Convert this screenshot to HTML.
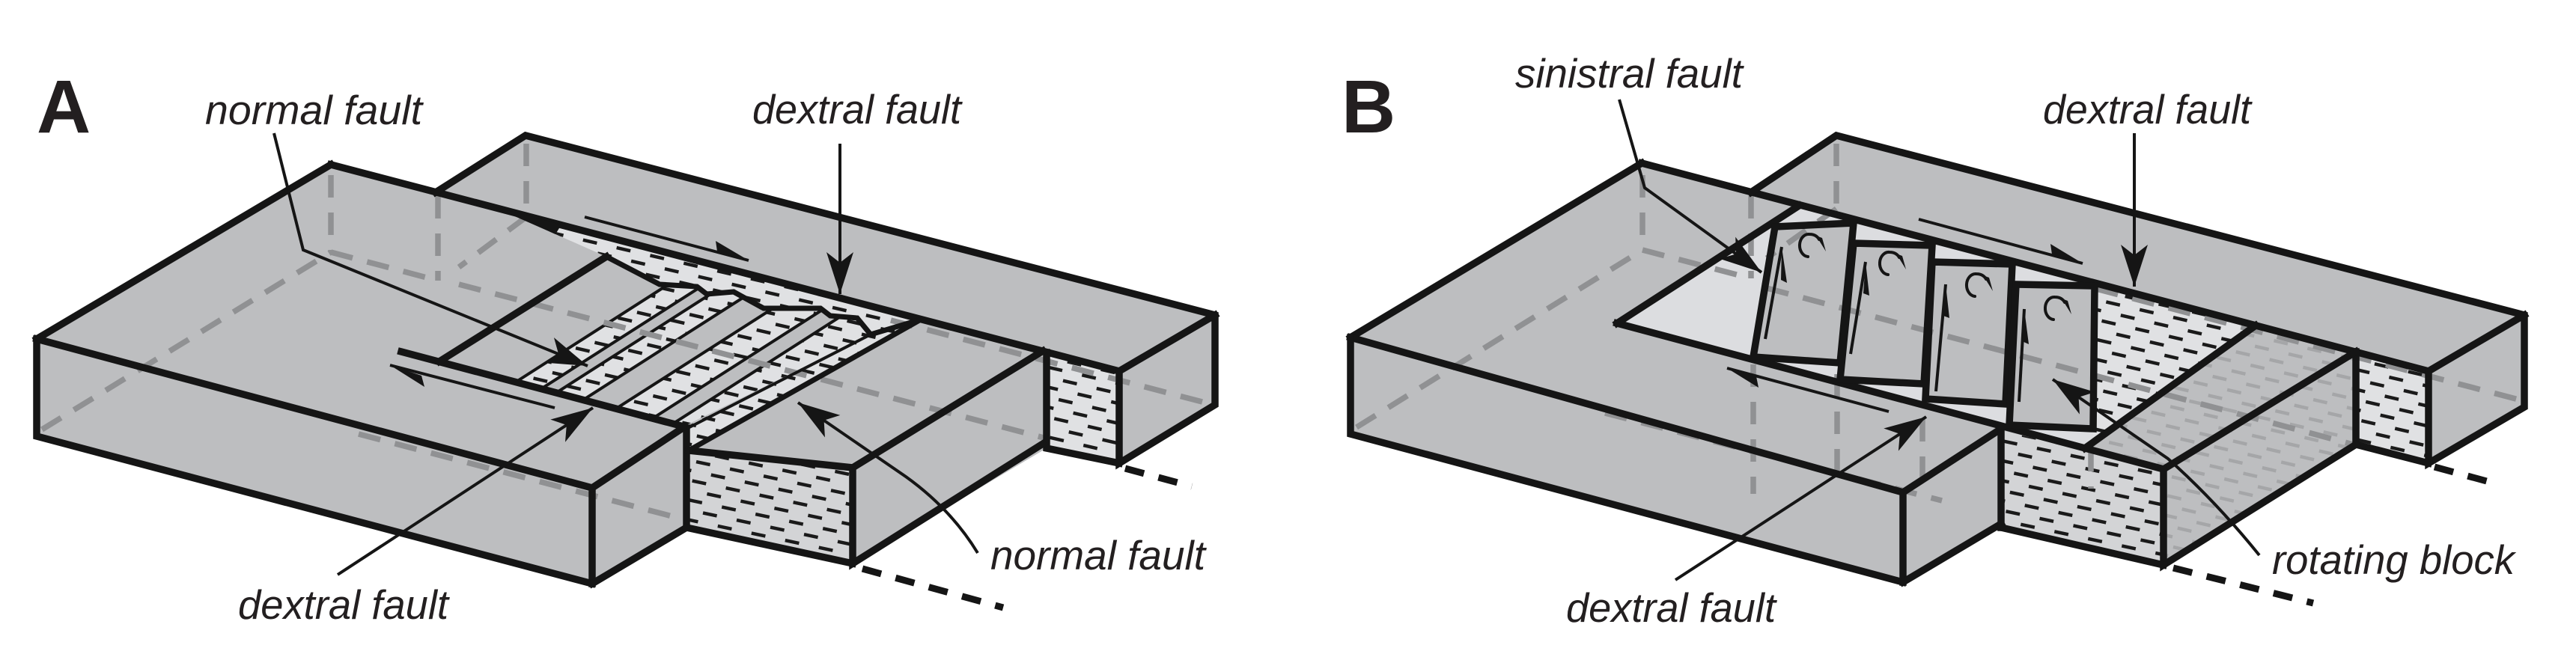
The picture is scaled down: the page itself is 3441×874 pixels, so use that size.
<!DOCTYPE html>
<html><head><meta charset="utf-8"><style>
html,body{margin:0;padding:0;background:#fff;}
svg{display:block;}
text{font-family:"Liberation Sans",Arial,sans-serif;fill:#231f20;}
</style></head><body>
<svg xmlns="http://www.w3.org/2000/svg" width="3441" height="874" viewBox="0 0 3441 874">
<defs>
<pattern id="sed" patternUnits="userSpaceOnUse" width="46" height="26" patternTransform="rotate(13)">
<rect width="46" height="26" fill="#e0e1e3"/>
<rect x="3" y="5" width="19" height="4.5" fill="#1a1a1a"/>
<rect x="26" y="18" width="19" height="4.5" fill="#1a1a1a"/>
</pattern>
<pattern id="sed2" patternUnits="userSpaceOnUse" width="46" height="26" patternTransform="rotate(12)">
<rect width="46" height="26" fill="#d3d4d6"/>
<rect x="3" y="5" width="19" height="4.5" fill="#1a1a1a"/>
<rect x="26" y="18" width="19" height="4.5" fill="#1a1a1a"/>
</pattern>
<pattern id="fsed" patternUnits="userSpaceOnUse" width="46" height="26" patternTransform="rotate(13)">
<rect width="46" height="26" fill="#bdbec0"/>
<rect x="3" y="5" width="19" height="4.5" fill="#a5a6a8"/>
<rect x="26" y="18" width="19" height="4.5" fill="#a5a6a8"/>
</pattern>
<marker id="ah" markerUnits="userSpaceOnUse" markerWidth="70" markerHeight="50" viewBox="-62 -25 70 50" refX="0" refY="0" orient="auto">
<path d="M0,0 L-56,-18 L-42,0 L-56,18 Z" fill="#151515"/>
</marker>
<clipPath id="basinA">
<polygon points="587,483 810,343 881,380 931,383 944,393 980,390 1020,412 1096,412 1109,422 1145,425 1163,447 913,570"/>
</clipPath>
</defs>

<rect width="3441" height="874" fill="#fff"/>

<!-- ================= PANEL A ================= -->
<path d="M49,453 L442,220 L582,257 L702,181 L1623,421 L1623,541 L1495,619 L1398,599 L1139,753 L917,705 L791,780 L49,583 Z" fill="#bdbec0"/>

<polygon points="917,600 1139,625 1139,753 917,705" fill="url(#sed2)"/>
<polygon points="1398,471 1495,496 1495,619 1398,599" fill="url(#sed)"/>
<polygon points="663,278 1230,427 1163,447 1145,425 1109,422 1096,412 1020,412 980,390 944,393 931,383 881,380 810,343" fill="url(#sed)"/>
<polygon points="587,483 810,343 881,380 931,383 944,393 980,390 1020,412 1096,412 1109,422 1145,425 1163,447 913,570" fill="url(#sed)"/>
<polygon points="913,572 1163,447 1230,427 920,602" fill="url(#sed)"/>
<g clip-path="url(#basinA)" fill="#bdbec0">
<polygon points="587,483.5 689,510.5 989,318.5 887,291.5"/>
<polygon points="723,519.6 743,524.9 1043,332.9 1023,327.6"/>
<polygon points="779,534.4 823,546.1 1123,354.1 1079,342.4"/>
<polygon points="872,559 899,566.2 1199,374.2 1172,367"/>
</g>
<g clip-path="url(#basinA)" stroke="#151515" stroke-width="4">
<line x1="689" y1="510.5" x2="989" y2="318.5"/>
<line x1="723" y1="519.6" x2="1023" y2="327.6"/>
<line x1="743" y1="524.9" x2="1043" y2="332.9"/>
<line x1="779" y1="534.4" x2="1079" y2="342.4"/>
<line x1="823" y1="546.1" x2="1123" y2="354.1"/>
<line x1="872" y1="559" x2="1172" y2="367"/>
<line x1="899" y1="566.2" x2="1199" y2="374.2"/>
</g>

<g stroke="#909193" stroke-width="7.5" stroke-dasharray="30 20" fill="none">
<path d="M56,574 L442,337"/>
<path d="M442,234 L442,337"/>
<path d="M442,337 L585,375"/>
<path d="M585,262 L585,375"/>
<path d="M703,192 L703,290"/>
<path d="M703,290 L613,357"/>
<path d="M613,380 L1398,586"/>
<path d="M1190,428 L1621,541"/>
<path d="M479,580 L917,695"/>
</g>

<g stroke="#151515" stroke-width="9.5" fill="none" stroke-linejoin="miter" stroke-linecap="square">
<path d="M49,453 L442,220"/>
<path d="M49,453 L791,652 L791,780"/>
<path d="M49,453 L49,583 L791,780"/>
<path d="M791,652 L915,570"/>
<path d="M791,780 L917,705"/>
<path d="M917,572 L917,705"/>
<path d="M442,220 L1495,496"/>
<path d="M582,257 L702,181 L1623,421 L1623,541 L1495,619 L1495,496 L1623,421"/>
<path d="M1398,471 L1398,599 L1495,619"/>
<path d="M920,602 L1139,625 L1393,469"/>
<path d="M1139,625 L1139,753 L1393,593"/>
<path d="M917,705 L1139,753"/>
<path d="M536,470 L913,570"/>
<path d="M587,483 L810,343"/>
</g>
<path d="M810,343 L881,380 L931,383 L944,393 L980,390 L1020,412 L1096,412 L1109,422 L1145,425 L1163,447 L1230,427" stroke="#151515" stroke-width="7" fill="none" stroke-linejoin="miter"/>
<path d="M917,573 L1163,447" stroke="#151515" stroke-width="4" fill="none"/>
<path d="M920,602 L1230,427" stroke="#151515" stroke-width="7" fill="none"/>
<polygon points="658,276 750,300 742,313" fill="#151515"/>
<g stroke="#151515" stroke-width="9" stroke-dasharray="26 20" fill="none">
<path d="M1152,760 L1340,812"/>
<path d="M1503,626 L1592,650"/>
</g>

<g stroke="#151515" stroke-width="4" fill="none">
<path d="M521,488 L741,545"/>
<path d="M781,290 L1000,348"/>
</g>
<polygon points="521,488 567,517 563,502" fill="#151515"/>
<polygon points="1000,348 956,322 958,336" fill="#151515"/>

<g stroke="#151515" stroke-width="4" fill="none" marker-end="url(#ah)">
<path d="M366,178 L405,334 L785,489"/>
<path d="M1122,192 L1122,393"/>
<path d="M451,768 L792,545"/>
<path d="M1306,739 Q1270,680 1210,637 L1066,538"/>
</g>

<!-- ================= PANEL B ================= -->
<path d="M1804,451 L2193,218 L2339,257 L2453,181 L3372,421 L3372,544 L3244,619 L3147,594 L2890,755 L2673,705 L2542,778 L1804,580 Z" fill="#bdbec0"/>

<polygon points="2160,432 2403,275 3013,435 2785,599" fill="#dcdde0"/>
<polygon points="2796,379 3013,435 2787,598 2796,598" fill="url(#sed)"/>
<polygon points="2785,599 3013,435 3147,470 2890,627" fill="url(#fsed)"/>
<polygon points="2890,627 3147,470 3147,594 2890,755" fill="url(#fsed)"/>
<polygon points="2673,575 2890,627 2890,755 2673,705" fill="url(#sed2)"/>
<polygon points="3147,470 3244,496 3244,619 3147,594" fill="url(#sed)"/>

<g fill="#bdbec0">
<polygon points="2371,303 2476,298 2458,485 2342,477"/>
<polygon points="2476,325 2581,328 2570,513 2458,507"/>
<polygon points="2581,350 2688,353 2679,540 2572,533"/>
<polygon points="2693,380 2798,382 2796,573 2684,568"/>
</g>

<g stroke="#909193" stroke-width="7.5" stroke-dasharray="30 20" fill="none">
<path d="M1812,571 L2194,334"/>
<path d="M2194,234 L2194,334"/>
<path d="M2194,334 L2339,372"/>
<path d="M2339,262 L2339,372"/>
<path d="M2453,192 L2453,279"/>
<path d="M2453,279 L2360,345"/>
<path d="M2360,385 L3147,595"/>
<path d="M2800,386 L3372,536"/>
<path d="M2144,552 L2594,669"/>
<path d="M2342,487 L2342,660"/>
<path d="M2454,500 L2454,640"/>
<path d="M2568,560 L2568,660"/>
<path d="M2793,600 L2793,653"/>
</g>

<g stroke="#151515" stroke-width="9.5" fill="none" stroke-linejoin="miter" stroke-linecap="square">
<path d="M1804,451 L2193,218"/>
<path d="M1804,451 L2542,658 L2542,778"/>
<path d="M1804,451 L1804,580 L2542,778"/>
<path d="M2542,658 L2670,575"/>
<path d="M2542,778 L2673,700"/>
<path d="M2673,575 L2673,705"/>
<path d="M2193,218 L3244,496"/>
<path d="M2339,257 L2453,181 L3372,421 L3372,544 L3244,619 L3244,496 L3372,421"/>
<path d="M3147,470 L3147,594 L3244,619"/>
<path d="M2160,432 L2890,627 L3147,470"/>
<path d="M2890,627 L2890,755 L3147,594"/>
<path d="M2673,705 L2890,755"/>
<path d="M2160,432 L2403,275"/>
<path d="M2785,599 L3013,435"/>
</g>
<g stroke="#151515" stroke-width="9.5" fill="none" stroke-linejoin="miter">
<polygon points="2371,303 2476,298 2458,485 2342,477"/>
<polygon points="2476,325 2581,328 2570,513 2458,507"/>
<polygon points="2581,350 2688,353 2679,540 2572,533"/>
<polygon points="2693,380 2798,382 2796,573 2684,568"/>
</g>
<g stroke="#151515" stroke-width="9" stroke-dasharray="26 20" fill="none">
<path d="M2903,759 L3090,806"/>
<path d="M3252,624 L3340,648"/>
</g>

<g stroke="#151515" stroke-width="4" fill="none">
<path d="M2563,293 L2782,352"/>
<path d="M2307,492 L2523,550"/>
<path d="M2358,453 L2380,330"/>
<path d="M2472,473 L2492,350"/>
<path d="M2586,523 L2599,380"/>
<path d="M2697,537 L2704,413"/>
</g>
<g fill="#151515">
<polygon points="2782,352 2739,326 2741,340"/>
<polygon points="2307,492 2349,518 2346,503"/>
<polygon points="2380,330 2387,378 2379,374"/>
<polygon points="2492,350 2497,395 2489,392"/>
<polygon points="2599,380 2604,425 2596,422"/>
<polygon points="2704,413 2710,460 2701,456"/>
</g>

<!-- rotation curls -->
<g stroke="#151515" stroke-width="4" fill="none" stroke-linecap="round">
<path d="M2415,343 A12 15 0 1 1 2417,313 Q2426,313 2430,320"/>
<path d="M2522,367 A12 15 0 1 1 2524,337 Q2533,337 2537,344"/>
<path d="M2638,396 A12 15 0 1 1 2640,366 Q2649,366 2653,373"/>
<path d="M2743,427 A12 15 0 1 1 2745,397 Q2754,397 2758,404"/>
</g>
<g fill="#151515">
<polygon points="2426,315 2439,336 2434,318"/>
<polygon points="2533,339 2546,360 2541,342"/>
<polygon points="2649,368 2662,389 2657,371"/>
<polygon points="2754,399 2767,420 2762,402"/>
</g>

<g stroke="#151515" stroke-width="4" fill="none" marker-end="url(#ah)">
<path d="M2163,133 L2197,251 L2353,364"/>
<path d="M2851,178 L2851,383"/>
<path d="M2238,775 L2573,557"/>
<path d="M3018,742 Q2960,670 2896,613 L2742,507"/>
</g>

<!-- ================= TEXT ================= -->
<text x="49" y="177" font-size="100" font-weight="bold">A</text>
<text x="1792" y="177" font-size="100" font-weight="bold">B</text>
<g font-size="55" font-style="italic">
<text x="274" y="166" textLength="290" lengthAdjust="spacingAndGlyphs">normal fault</text>
<text x="1005" y="165" textLength="279" lengthAdjust="spacingAndGlyphs">dextral fault</text>
<text x="318" y="827" textLength="281" lengthAdjust="spacingAndGlyphs">dextral fault</text>
<text x="1323" y="761" textLength="287" lengthAdjust="spacingAndGlyphs">normal fault</text>
<text x="2024" y="117" textLength="304" lengthAdjust="spacingAndGlyphs">sinistral fault</text>
<text x="2729" y="165" textLength="278" lengthAdjust="spacingAndGlyphs">dextral fault</text>
<text x="2092" y="831" textLength="280" lengthAdjust="spacingAndGlyphs">dextral fault</text>
<text x="3035" y="767" textLength="324" lengthAdjust="spacingAndGlyphs">rotating block</text>
</g>
</svg>
</body></html>
